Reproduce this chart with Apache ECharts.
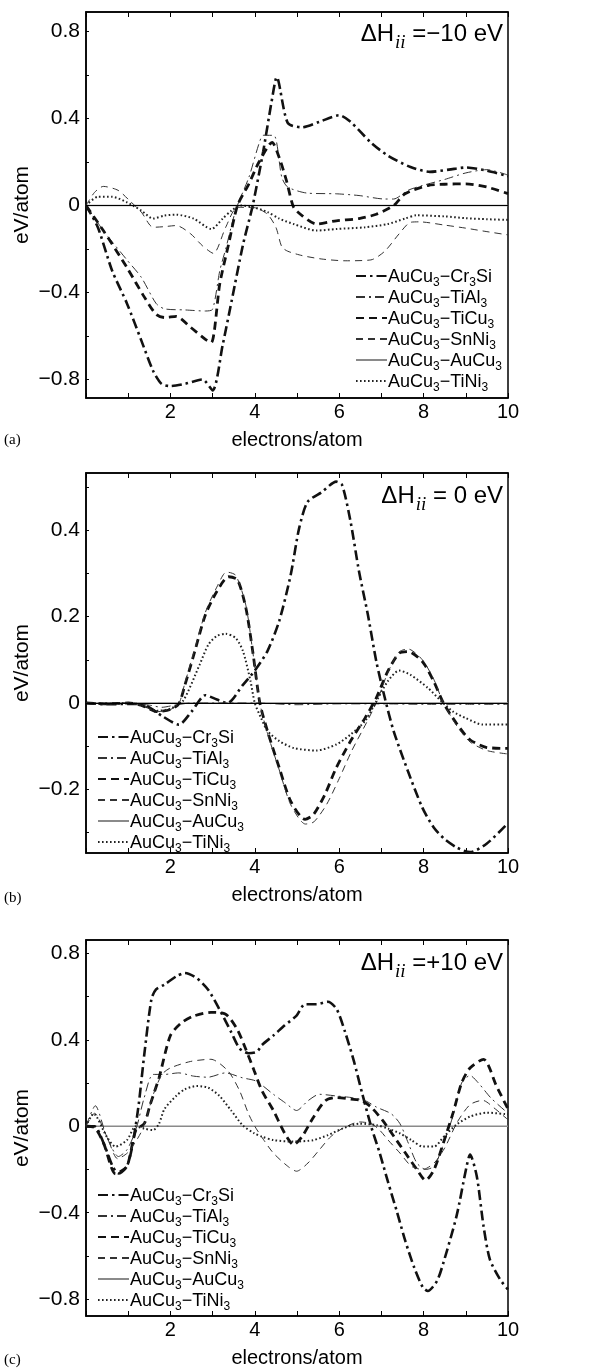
<!DOCTYPE html>
<html><head><meta charset="utf-8">
<script src="https://cdn.jsdelivr.net/npm/echarts@6/dist/echarts.min.js"></script>
<style>html,body{margin:0;padding:0;background:#fff}#c{width:607px;height:1369px}</style>
</head><body><div id="c"></div>
<script>
// ---- series names ----
const names = ['AuCu3−Cr3Si','AuCu3−TiAl3','AuCu3−TiCu3','AuCu3−SnNi3','AuCu3−AuCu3','AuCu3−TiNi3'];
const xTicks = [0,1,2,3,4,5,6,7,8,9,10];
const yLabelsA = [-0.8,-0.4,0,0.4,0.8];
const yLabelsB = [-0.2,0,0.2,0.4];
const yLabelsC = [-0.8,-0.4,0,0.4,0.8];
const titles = [' =−10 eV',' = 0 eV',' =+10 eV'];

// ---- panel (a) ΔHii = -10 eV ----
const a_Cr3Si = [[0,0],[0.28,-0.1],[0.62,-0.3],[0.97,-0.45],[1.31,-0.62],[1.59,-0.76],[1.79,-0.82],[2.0,-0.83],[2.34,-0.82],[2.76,-0.8],[3.0,-0.85],[3.24,-0.64],[3.45,-0.44],[3.72,-0.18],[3.95,0.0],[4.2,0.25],[4.4,0.48],[4.52,0.59],[4.78,0.38],[5.12,0.36],[5.53,0.385],[6.0,0.415],[6.27,0.385],[6.75,0.29],[7.15,0.23],[7.69,0.177],[8.15,0.155],[8.6,0.165],[9.0,0.175],[9.5,0.16],[10,0.135]];
const a_TiAl3 = [[0,0],[0.41,-0.115],[0.97,-0.25],[1.31,-0.33],[1.66,-0.45],[1.86,-0.475],[2.34,-0.48],[2.83,-0.485],[3.0,-0.477],[3.17,-0.3],[3.31,-0.2],[3.55,-0.02],[3.86,0.13],[4.1,0.285],[4.2,0.323],[4.45,0.323],[4.64,0.13],[4.78,0.085],[5.25,0.057],[5.93,0.054],[6.47,0.046],[7.08,0.03],[7.29,0.03],[7.63,0.07],[7.97,0.092],[8.5,0.12],[9.0,0.15],[9.5,0.165],[10,0.14]];
const a_TiCu3 = [[0,0],[0.41,-0.115],[0.97,-0.285],[1.38,-0.42],[1.66,-0.5],[1.86,-0.515],[2.14,-0.51],[2.48,-0.56],[2.83,-0.615],[2.97,-0.63],[3.17,-0.36],[3.38,-0.177],[3.59,0],[3.86,0.1],[4.1,0.2],[4.41,0.29],[4.58,0.22],[4.75,0.115],[4.92,-0.008],[5.12,-0.046],[5.46,-0.085],[5.93,-0.07],[6.47,-0.06],[6.88,-0.04],[7.29,0],[7.56,0.054],[8.1,0.092],[8.5,0.098],[9.0,0.1],[9.5,0.085],[10,0.055]];
const a_SnNi3 = [[0,0],[0.2,0.06],[0.41,0.088],[0.76,0.07],[1.03,0.023],[1.31,-0.03],[1.59,-0.1],[1.86,-0.097],[2.14,-0.092],[2.48,-0.13],[2.76,-0.185],[3.02,-0.22],[3.31,-0.1],[3.59,-0.008],[4.0,-0.01],[4.3,-0.04],[4.5,-0.1],[4.64,-0.19],[4.78,-0.21],[5.12,-0.23],[5.59,-0.246],[6.14,-0.254],[6.75,-0.25],[7.08,-0.21],[7.42,-0.13],[7.69,-0.077],[7.9,-0.075],[8.5,-0.09],[9.0,-0.104],[9.5,-0.12],[10,-0.135]];
const a_AuCu3 = [[0,0],[10,0]];
const a_TiNi3 = [[0,0],[0.28,0.04],[0.62,0.04],[0.97,0.015],[1.31,-0.023],[1.59,-0.06],[1.86,-0.046],[2.14,-0.042],[2.55,-0.06],[2.97,-0.108],[3.24,-0.06],[3.45,-0.023],[3.66,0],[4.0,-0.01],[4.3,-0.03],[4.58,-0.06],[4.92,-0.085],[5.46,-0.115],[5.93,-0.108],[6.61,-0.1],[7.15,-0.085],[7.56,-0.06],[7.83,-0.045],[8.5,-0.05],[9.0,-0.058],[9.5,-0.063],[10,-0.066]];

// ---- panel (b) ΔHii = 0 eV ----
const b_Cr3Si = [[0,0],[0.5,-0.003],[1.0,-0.002],[1.4,-0.005],[1.8,-0.03],[2.2,-0.05],[2.5,-0.02],[2.83,0.018],[3.1,0.008],[3.35,0.0],[3.72,0.042],[4.0,0.075],[4.3,0.12],[4.58,0.19],[4.85,0.296],[5.05,0.404],[5.25,0.465],[5.59,0.488],[5.93,0.512],[6.07,0.504],[6.27,0.419],[6.47,0.304],[6.68,0.204],[6.88,0.096],[7.08,0.012],[7.29,-0.065],[7.63,-0.158],[7.97,-0.242],[8.24,-0.288],[8.5,-0.315],[8.8,-0.335],[9.1,-0.345],[9.5,-0.325],[10,-0.278]];
const b_TiAl3 = [[0,0],[1,0],[1.5,-0.005],[1.8,-0.01],[2.1,-0.005],[2.5,0],[4,0],[5,-0.004],[6,-0.002],[7,-0.002],[8,-0.003],[9,-0.003],[10,-0.003]];
const b_TiCu3 = [[0,0],[0.5,-0.002],[1.0,0.0],[1.3,-0.005],[1.7,-0.02],[2.0,-0.015],[2.2,-0.002],[2.34,0.04],[2.55,0.11],[2.83,0.204],[3.1,0.258],[3.38,0.292],[3.59,0.285],[3.79,0.219],[3.95,0.12],[4.12,0],[4.3,-0.065],[4.58,-0.15],[4.85,-0.227],[5.19,-0.269],[5.39,-0.258],[5.66,-0.212],[5.93,-0.15],[6.27,-0.088],[6.61,-0.035],[6.88,0.012],[7.15,0.073],[7.42,0.115],[7.63,0.119],[7.97,0.096],[8.24,0.05],[8.47,0],[8.8,-0.05],[9.1,-0.085],[9.5,-0.103],[10,-0.105]];
const b_SnNi3 = [[0,0],[0.5,-0.002],[1.0,0.0],[1.3,-0.005],[1.7,-0.02],[2.0,-0.015],[2.2,-0.002],[2.34,0.045],[2.55,0.115],[2.83,0.21],[3.1,0.268],[3.33,0.303],[3.55,0.295],[3.79,0.225],[3.95,0.12],[4.12,0],[4.3,-0.07],[4.58,-0.155],[4.85,-0.235],[5.2,-0.28],[5.4,-0.275],[5.7,-0.235],[6.0,-0.175],[6.3,-0.11],[6.65,-0.045],[6.9,0.005],[7.15,0.07],[7.42,0.118],[7.63,0.125],[7.97,0.1],[8.24,0.055],[8.47,0.0],[8.8,-0.055],[9.1,-0.09],[9.5,-0.11],[10,-0.118]];
const b_AuCu3 = [[0,0],[10,0]];
const b_TiNi3 = [[0,0],[0.5,-0.002],[1.0,0.0],[1.3,-0.005],[1.7,-0.018],[2.0,-0.013],[2.3,0.005],[2.69,0.088],[2.9,0.135],[3.1,0.155],[3.31,0.16],[3.55,0.15],[3.72,0.12],[3.9,0.05],[4.0,0.0],[4.15,-0.035],[4.3,-0.065],[4.58,-0.088],[4.92,-0.104],[5.46,-0.11],[5.93,-0.096],[6.27,-0.073],[6.61,-0.042],[6.88,0.004],[7.15,0.05],[7.42,0.075],[7.69,0.065],[8.1,0.035],[8.41,0.005],[8.7,-0.02],[9.0,-0.035],[9.4,-0.05],[10,-0.05]];

// ---- panel (c) ΔHii = +10 eV ----
const c_Cr3Si = [[0,0],[0.2,0.0],[0.42,-0.079],[0.63,-0.185],[0.77,-0.218],[0.97,-0.185],[1.11,-0.079],[1.25,0.103],[1.38,0.33],[1.55,0.588],[1.66,0.633],[1.86,0.656],[2.14,0.694],[2.34,0.709],[2.62,0.686],[2.89,0.633],[3.16,0.542],[3.44,0.436],[3.64,0.36],[3.85,0.338],[4.05,0.345],[4.17,0.376],[4.44,0.42],[4.71,0.467],[4.99,0.512],[5.19,0.565],[5.46,0.565],[5.73,0.576],[5.94,0.542],[6.14,0.436],[6.35,0.3],[6.55,0.148],[6.76,-0.003],[6.96,-0.124],[7.16,-0.26],[7.37,-0.397],[7.57,-0.533],[7.78,-0.655],[7.98,-0.745],[8.1,-0.762],[8.32,-0.715],[8.47,-0.631],[8.78,-0.416],[9.02,-0.185],[9.1,-0.131],[9.26,-0.231],[9.42,-0.462],[9.57,-0.616],[9.81,-0.708],[10,-0.755]];
const c_TiAl3 = [[0,0],[0.22,0.095],[0.49,-0.048],[0.77,-0.14],[0.97,-0.109],[1.18,-0.018],[1.38,0.133],[1.59,0.24],[1.86,0.24],[2.2,0.247],[2.55,0.232],[2.89,0.227],[3.3,0.247],[3.71,0.224],[4.03,0.209],[4.44,0.148],[4.71,0.11],[4.99,0.073],[5.26,0.118],[5.53,0.148],[5.94,0.14],[6.28,0.133],[6.62,0.118],[6.89,0.088],[7.23,0.058],[7.44,0.012],[7.64,-0.079],[7.84,-0.17],[8.05,-0.2],[8.25,-0.185],[8.4,-0.12],[8.7,0.05],[8.9,0.2],[9.1,0.235],[9.3,0.2],[9.6,0.13],[10,0.06]];
const c_TiCu3 = [[0,0],[0.2,-0.005],[0.42,-0.08],[0.7,-0.22],[0.97,-0.185],[1.18,-0.018],[1.38,0.012],[1.52,0.1],[1.73,0.224],[2.0,0.42],[2.27,0.48],[2.55,0.51],[2.96,0.527],[3.3,0.52],[3.58,0.45],[3.78,0.36],[3.99,0.255],[4.17,0.164],[4.44,0.073],[4.71,-0.033],[4.92,-0.086],[5.12,-0.048],[5.39,0.042],[5.67,0.118],[5.94,0.133],[6.28,0.126],[6.55,0.118],[6.76,0.088],[7.03,0.027],[7.3,-0.048],[7.57,-0.124],[7.84,-0.2],[8.05,-0.25],[8.25,-0.2],[8.47,-0.076],[8.7,0.063],[8.9,0.2],[9.1,0.27],[9.42,0.31],[9.73,0.185],[10,0.08]];
const c_SnNi3 = [[0,0],[0.2,0.06],[0.5,-0.05],[0.75,-0.15],[1.0,-0.12],[1.3,-0.03],[1.45,0.05],[1.6,0.15],[1.8,0.24],[2.0,0.27],[2.48,0.3],[2.96,0.31],[3.37,0.255],[3.64,0.164],[3.85,0.058],[4.0,0.0],[4.2,-0.06],[4.44,-0.124],[4.78,-0.185],[4.99,-0.208],[5.26,-0.17],[5.53,-0.109],[5.8,-0.048],[6.07,-0.011],[6.48,0.02],[6.76,0.012],[6.96,-0.018],[7.16,-0.064],[7.44,-0.124],[7.71,-0.185],[7.98,-0.2],[8.25,-0.17],[8.5,-0.1],[8.8,0.02],[9.1,0.1],[9.4,0.12],[9.7,0.08],[10,0.03]];
const c_AuCu3 = [[0,0],[10,0]];
const c_TiNi3 = [[0,0],[0.18,0.058],[0.49,-0.048],[0.7,-0.094],[0.97,-0.064],[1.18,0.0],[1.38,-0.011],[1.59,-0.018],[1.73,0.012],[1.86,0.08],[2.14,0.141],[2.34,0.171],[2.62,0.186],[2.89,0.179],[3.16,0.141],[3.44,0.073],[3.71,0.005],[3.99,-0.033],[4.17,-0.048],[4.44,-0.064],[4.92,-0.071],[5.39,-0.064],[5.73,-0.041],[6.07,-0.011],[6.48,0.012],[6.89,0.005],[7.16,-0.011],[7.44,-0.033],[7.71,-0.064],[7.98,-0.094],[8.25,-0.094],[8.47,-0.05],[8.78,0.008],[9.1,0.045],[9.5,0.063],[10,0.055]];

const panels = [
  {data:[a_Cr3Si,a_TiAl3,a_TiCu3,a_SnNi3,a_AuCu3,a_TiNi3], top:12, height:386, ymin:-0.885, ymax:0.89, labels:yLabelsA, step:0.2, legendLeft:355, legendTop:268, zeroBlack:true, letter:'(a)', letterY:440, titleY:34},
  {data:[b_Cr3Si,b_TiAl3,b_TiCu3,b_SnNi3,b_AuCu3,b_TiNi3], top:473, height:380, ymin:-0.347, ymax:0.532, labels:yLabelsB, step:0.1, legendLeft:97, legendTop:729, zeroBlack:true, letter:'(b)', letterY:898, titleY:496},
  {data:[c_Cr3Si,c_TiAl3,c_TiCu3,c_SnNi3,c_AuCu3,c_TiNi3], top:940, height:377, ymin:-0.878, ymax:0.862, labels:yLabelsC, step:0.2, legendLeft:97, legendTop:1187, zeroBlack:false, letter:'(c)', letterY:1360, titleY:963}
];

const styles = [
  {color:'#111', width:2.6, type:[10,4,2.5,4]},
  {color:'#333', width:1, type:[9,4,2,4]},
  {color:'#111', width:2.8, type:[8,5]},
  {color:'#333', width:1, type:[7,5]},
  {color:'#8a8a8a', width:1.6, type:'solid'},
  {color:'#222', width:2, type:[1.6,2.4]}
];

const SANS = "'Liberation Sans', Arial, Helvetica, sans-serif";
const SERIF = "'Liberation Serif', 'Times New Roman', serif";
const fmtY = v => (Math.abs(v) < 1e-9 ? '0' : String(+v.toFixed(2)).replace('-', '−'));
function ticksOf(min, max, step){
  const out = []; const s = Math.ceil(min/step - 1e-9);
  for (let k = s; k*step <= max + 1e-9; k++) out.push(+(k*step).toFixed(3));
  return out;
}
function legendFmt(n){
  // digits become subscripts
  return n.split(/(\d)/).filter(t => t !== '').map(t => /\d/.test(t) ? '{s|' + t + '}' : '{b|' + t + '}').join('');
}

const grids = [], xAxes = [], yAxes = [], series = [], legends = [], graphics = [];
panels.forEach((p, i) => {
  grids.push({left:86, width:422, top:p.top, height:p.height, show:true, borderColor:'#000', borderWidth:1.5, backgroundColor:'transparent'});
  xAxes.push({type:'value', gridIndex:i, min:0, max:10, interval:1, position:'bottom',
    name:'electrons/atom', nameLocation:'middle', nameGap:32, nameMoveOverlap:false,
    nameTextStyle:{fontFamily:SANS, fontSize:20, color:'#000'},
    axisLine:{show:true, onZero:false, lineStyle:{color:'#000', width:1.5}},
    axisTick:{inside:true, length:5, lineStyle:{color:'#000', width:1}},
    axisLabel:{margin:4, fontFamily:SANS, fontSize:20, color:'#000', formatter:v => (v>0 && v%2===0) ? String(v) : ''},
    splitLine:{show:false}});
  xAxes.push({type:'value', gridIndex:i, min:0, max:10, interval:1, position:'top',
    axisLine:{show:true, onZero:false, lineStyle:{color:'#000', width:1.5}},
    axisTick:{inside:true, length:5, lineStyle:{color:'#000', width:1}},
    axisLabel:{show:false}, splitLine:{show:false}});
  yAxes.push({type:'value', gridIndex:i, min:p.ymin, max:p.ymax,
    name:'eV/atom', nameLocation:'middle', nameGap:53, nameRotate:90, nameMoveOverlap:false,
    nameTextStyle:{fontFamily:SANS, fontSize:21, color:'#000'},
    axisLine:{show:true, onZero:false, lineStyle:{color:'#000', width:1.5}},
    axisTick:{inside:true, length:3, customValues:ticksOf(p.ymin, p.ymax, p.step), lineStyle:{color:'#000', width:1}},
    axisLabel:{margin:6, fontFamily:SANS, fontSize:21, color:'#000', customValues:p.labels, formatter:fmtY},
    splitLine:{show:false}});
  p.data.forEach((d, j) => {
    const st = styles[j];
    const s = {name:names[j], type:'line', xAxisIndex:2*i, yAxisIndex:i, data:d, symbol:'none', smooth:0.25,
      silent:true, animation:false, z: j===4 ? 1 : 3,
      lineStyle:{color:st.color, width:st.width, type:st.type}, itemStyle:{color:st.color}};
    if (j === 4 && p.zeroBlack) {
      s.markLine = {silent:true, symbol:'none', label:{show:false}, animation:false,
        lineStyle:{color:'#000', width:1.2, type:'solid'}, data:[{yAxis:0}]};
    }
    series.push(s);
  });
  legends.push({data:names, left:p.legendLeft, top:p.legendTop, orient:'vertical', padding:0,
    itemWidth:31, itemHeight:14, itemGap:0, selectedMode:false,
    itemStyle:{opacity:0, color:'transparent', borderWidth:0},
    textStyle:{padding:[0,0,0,-4], fontFamily:SANS, fontSize:18, color:'#000', lineHeight:16,
      rich:{b:{fontFamily:SANS, fontSize:18, color:'#000', lineHeight:16, verticalAlign:'top'},
            s:{fontFamily:SANS, fontSize:12, color:'#000', lineHeight:4, verticalAlign:'top', padding:[9,0,0,0]}}},
    formatter: legendFmt});
  graphics.push({type:'text', x:503, y:p.titleY, silent:true,
    style:{text:'{n|ΔH}{i|ii}{n|' + titles[i] + '}', align:'right', verticalAlign:'middle',
      rich:{n:{fontFamily:SANS, fontSize:24, fill:'#000', lineHeight:24, verticalAlign:'top'},
            i:{fontFamily:SERIF, fontStyle:'italic', fontSize:19, fill:'#000', lineHeight:10, verticalAlign:'top', padding:[11,0,0,1]}}}});
  graphics.push({type:'text', x:4, y:p.letterY, silent:true,
    style:{text:p.letter, fontFamily:SERIF, fontSize:15, fill:'#000', verticalAlign:'middle'}});
});

const chart = echarts.init(document.getElementById('c'), null, {renderer:'canvas'});
chart.setOption({animation:false, backgroundColor:'#fff', grid:grids, xAxis:xAxes, yAxis:yAxes, series:series, legend:legends, graphic:graphics});
</script></body></html>
